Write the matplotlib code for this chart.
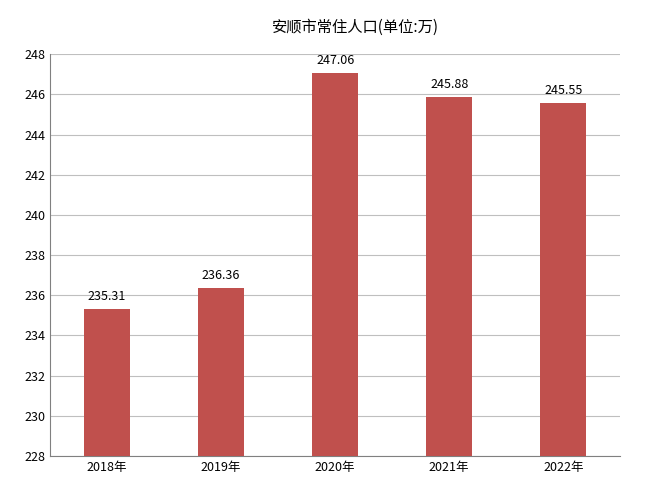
import matplotlib
matplotlib.use("Agg")
import matplotlib.pyplot as plt

plt.rcParams['font.family'] = ['Noto Sans CJK SC', 'DejaVu Sans']

categories = ["2018年", "2019年", "2020年", "2021年", "2022年"]
values = [235.31, 236.36, 247.06, 245.88, 245.55]
yticks = list(range(228, 249, 2))

fig = plt.figure(figsize=(6.54, 4.93), dpi=100)
ax = fig.add_axes([0.0765, 0.075, 0.872, 0.815])
x = range(len(categories))
ax.bar(x, values, width=0.4, color="#C0504D", zorder=3)
for i, v in zip(x, values):
    ax.text(i, v + 0.3, f"{v:.2f}", ha="center", va="bottom", fontsize=9)
ax.set_ylim(228, 248)
ax.set_xlim(-0.5, len(categories) - 0.5)
ax.set_yticks(yticks)
ax.set_xticks(list(x))
ax.set_xticklabels(categories)
ax.tick_params(labelsize=9, length=0)
ax.grid(axis="y", color="#BFBFBF", linewidth=0.8, zorder=0)
for s in ["top", "right"]:
    ax.spines[s].set_visible(False)
ax.spines["left"].set_color("#808080")
ax.spines["bottom"].set_color("#808080")
fig.text(0.543, 0.945, "安顺市常住人口(单位:万)", ha="center", va="center", fontsize=11)
fig.savefig("out.png", dpi=100)
